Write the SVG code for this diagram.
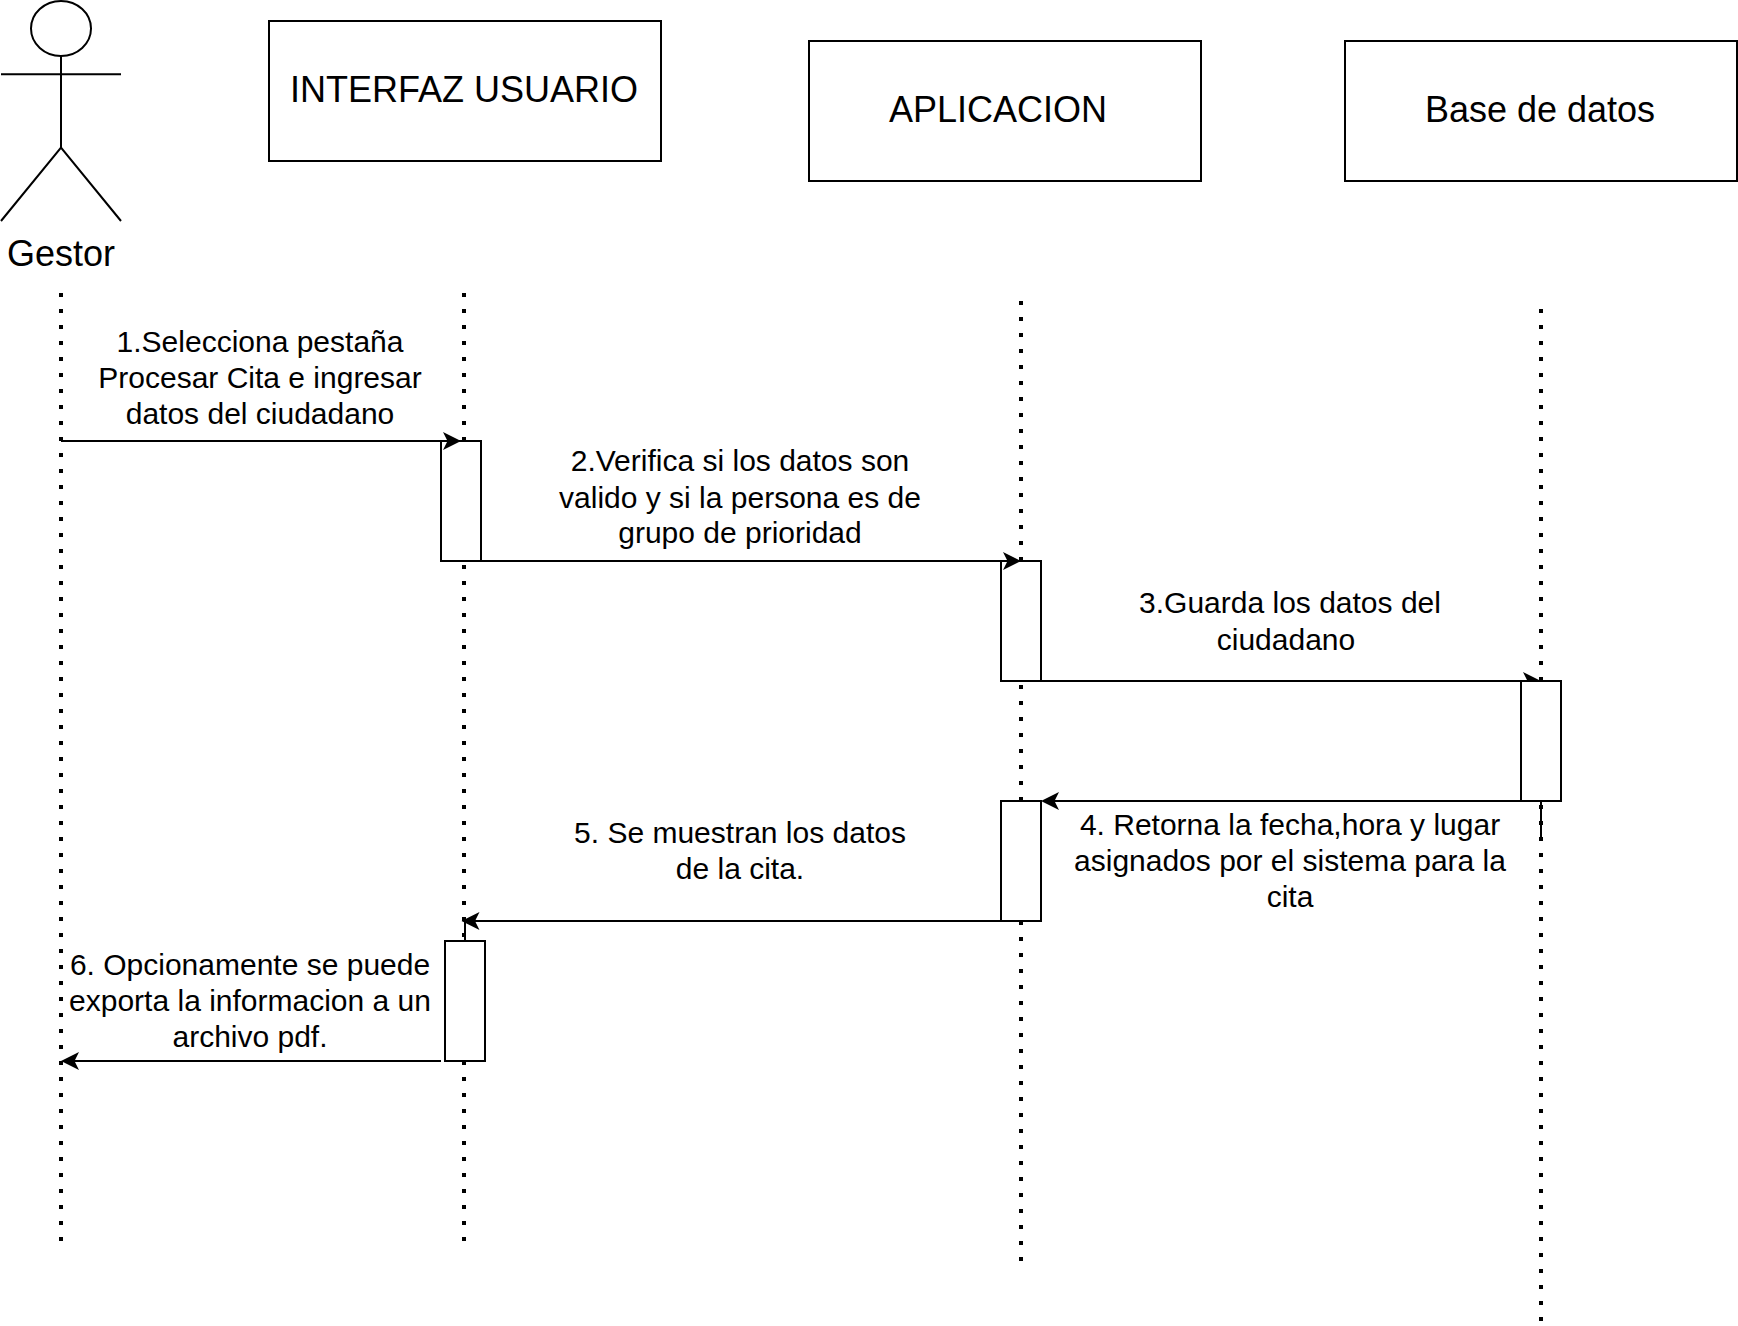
<svg xmlns="http://www.w3.org/2000/svg" width="1738" height="1326" viewBox="0 0 1738 1326">
<defs>
<marker id="arr" markerUnits="userSpaceOnUse" markerWidth="20" markerHeight="20" refX="14" refY="9" orient="auto"><path d="M0 0L18 9L0 18L4.500 9Z" fill="#000"/></marker>
</defs>
<style>
text{font-family:"Liberation Sans",Arial,sans-serif;fill:#000;text-anchor:middle}
.t36{font-size:36px}.t30{font-size:30px}
.b{fill:#fff;stroke:#000;stroke-width:2}
.l{fill:none;stroke:#000;stroke-width:2}
.d{fill:none;stroke:#000;stroke-width:4;stroke-dasharray:4 12}
.c{fill:none;stroke:#000;stroke-width:2;marker-end:url(#arr)}
</style>
<rect width="1738" height="1326" fill="#fff"/>
<g id="lifelines">
<path class="d" d="M61 293V1241"/><path class="d" d="M464 293V1241"/><path class="d" d="M1021 301V801"/><path class="d" d="M1021 921V1261"/><path class="d" d="M1541 309V1321"/>
</g>
<g id="gestor">
<ellipse class="l" cx="61" cy="28.500" rx="30" ry="27.500"/>
<path class="l" d="M61 56V147.670M1 74.330H121M1 221L61 147.670L121 221"/>
<text class="t36" x="61" y="266">Gestor</text>
</g>
<g id="interfaz"><rect class="b" x="269" y="21" width="392" height="140"/><text class="t36" x="464" y="102">INTERFAZ USUARIO</text></g>
<g id="aplicacion"><rect class="b" x="809" y="41" width="392" height="140"/><text class="t36" x="998" y="122">APLICACION</text></g>
<g id="base"><rect class="b" x="1345" y="41" width="392" height="140"/><text class="t36" x="1540" y="122">Base de datos</text></g>
<g id="act1"><rect class="b" x="441" y="441" width="40" height="120"/></g>
<g id="act2"><rect class="b" x="1001" y="561" width="40" height="120"/></g>
<g id="act4"><rect class="b" x="1001" y="801" width="40" height="120"/></g>
<g id="act5"><rect class="b" x="445" y="941" width="40" height="120"/></g>
<g id="connectors">
<path class="c" d="M61 441H457"/>
<path class="c" d="M481 561H1017"/>
<path class="c" d="M1041 681H1537"/>
<path class="c" d="M1521 801H1045"/>
<path class="c" d="M1001 921H465.500"/>
<path class="l" d="M465 941V921"/>
<path class="c" d="M441 1061H65"/>
<path class="l" d="M1541 837V801"/>
</g>
<g id="act3"><rect class="b" x="1521" y="681" width="40" height="120"/></g>
<g id="labels">
<text class="t30" x="260" y="351.500">1.Selecciona pestaña</text>
<text class="t30" x="260" y="387.500">Procesar Cita e ingresar</text>
<text class="t30" x="260" y="423.500">datos del ciudadano</text>
<text class="t30" x="740" y="471">2.Verifica si los datos son</text>
<text class="t30" x="740" y="507.500">valido y si la persona es de</text>
<text class="t30" x="740" y="543">grupo de prioridad</text>
<text class="t30" x="1290" y="613">3.Guarda los datos del</text>
<text class="t30" x="1286" y="649.500">ciudadano</text>
<text class="t30" x="1290" y="835">4. Retorna la fecha,hora y lugar</text>
<text class="t30" x="1290" y="871">asignados por el sistema para la</text>
<text class="t30" x="1290" y="907">cita</text>
<text class="t30" x="740" y="843">5. Se muestran los datos</text>
<text class="t30" x="740" y="879">de la cita.</text>
<text class="t30" x="250" y="975">6. Opcionamente se puede</text>
<text class="t30" x="250" y="1011">exporta la informacion a un</text>
<text class="t30" x="250" y="1047">archivo pdf.</text>
</g>
</svg>
